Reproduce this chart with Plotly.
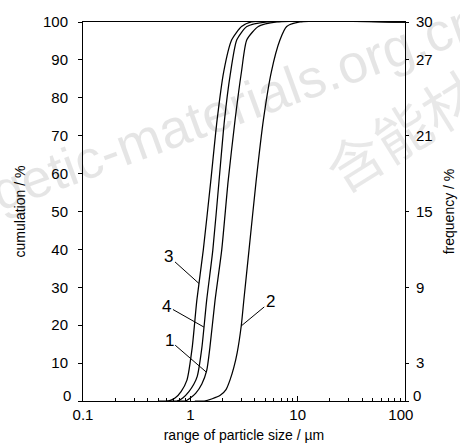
import numpy as np
import plotly.graph_objects as go

# ---- data ----
size_3 = [0.5, 0.62, 0.72, 0.82, 0.93, 1.04, 1.15, 1.32, 1.55, 1.775, 2.05, 2.43, 3.0, 3.7, 100]
cum_3 = [0, 0, 0.8, 2.5, 5.5, 14, 26.6, 39.8, 58, 74.1, 87, 95.3, 98.8, 100, 100]

size_4 = [0.6, 0.75, 0.85, 0.97, 1.08, 1.16, 1.28, 1.42, 1.62, 1.85, 2.08, 2.35, 2.71, 3.36, 5.2, 100]
cum_4 = [0, 0, 0.8, 2.5, 4.5, 6.5, 14, 26.6, 39.8, 58, 74.1, 86, 95.3, 98.8, 100, 100]

size_1 = [0.75, 0.9, 1.0, 1.12, 1.28, 1.42, 1.52, 1.70, 1.96, 2.25, 2.61, 3.0, 3.36, 4.3, 6.4, 100]
cum_1 = [0, 0, 0.8, 2, 4.5, 8, 14, 26.6, 39.8, 58, 74.1, 87, 95.3, 98.8, 100, 100]

size_2 = [1.1, 1.35, 1.6, 1.9, 2.15, 2.34, 2.55, 2.73, 2.98, 3.15, 3.52, 4.1, 4.79, 5.7, 6.85, 7.9, 10.5, 100]
cum_2 = [0, 0, 0.6, 1.5, 3, 5.5, 9, 12.7, 19.8, 26.6, 39.8, 58, 74.1, 87, 95.3, 98.8, 100, 100]

label_cum = {"3": 31.0, "4": 19.5, "1": 7.65, "2": 19.8}
label_off = {"3": (-30, -27), "4": (-37, -21), "1": (-37, -32), "2": (29, -24)}

x_tickvals = [0.1, 1, 10, 100]
x_ticktext = ["0.1", "1", "10", "100\u00a0\u00a0"]
y_tickvals = list(range(0, 101, 10))
y_ticktext = [""] + [str(v) for v in y_tickvals[1:]]
y2_tickvals = [0, 3, 9, 15, 21, 27, 30]
y2_ticktext = [""] + [str(v) for v in y2_tickvals[1:]]

FONT = "Liberation Sans, Arial, sans-serif"

curves = {"1": (size_1, cum_1), "2": (size_2, cum_2), "3": (size_3, cum_3), "4": (size_4, cum_4)}

fig = go.Figure()
for name in ["3", "4", "1", "2"]:
    xs, ys = curves[name]
    fig.add_trace(go.Scatter(x=xs, y=ys, mode="lines", name=name,
                             line=dict(color="black", width=1.25, shape="spline", smoothing=0.6),
                             showlegend=False, hoverinfo="skip"))
# empty trace for the right (frequency) axis
fig.add_trace(go.Scatter(x=[], y=[], yaxis="y2", showlegend=False))

annotations = []
for name in ["3", "4", "1", "2"]:
    xs, ys = curves[name]
    yv = label_cum[name]
    ys_a = np.array(ys, float)
    xs_a = np.log10(np.array(xs, float))
    idx = np.where((ys_a > 0) & (ys_a < 100))[0]
    lo, hi = idx[0] - 1, idx[-1] + 1
    xv = np.interp(yv, ys_a[lo:hi + 1], xs_a[lo:hi + 1])
    ax, ay = label_off[name]
    annotations.append(dict(x=float(xv), y=yv, xref="x", yref="y", text=name,
                            showarrow=True, arrowhead=0, arrowwidth=1, arrowcolor="black",
                            ax=ax, ay=ay, standoff=0, font=dict(family=FONT, size=17, color="black")))

# the "0" labels of both vertical axes sit a little above the baseline
annotations.append(dict(x=0, y=0, xref="paper", yref="y", text=str(y_tickvals[0]), showarrow=False,
                        xanchor="right", yanchor="middle", xshift=-10, yshift=6,
                        font=dict(family=FONT, size=15, color="black")))
annotations.append(dict(x=1, y=0, xref="paper", yref="y", text=str(y2_tickvals[0]), showarrow=False,
                        xanchor="left", yanchor="middle", xshift=6, yshift=6,
                        font=dict(family=FONT, size=15, color="black")))

# watermark
annotations.append(dict(x=0.317, y=0.731, xref="paper", yref="paper", text="energetic-materials.org.cn",
                        showarrow=False, textangle=-20, xanchor="center", yanchor="middle",
                        font=dict(family="Liberation Sans, Arial", size=54, color="rgba(0,0,0,0.10)")))
annotations.append(dict(x=1.062, y=0.755, xref="paper", yref="paper", text="含能材料",
                        showarrow=False, textangle=-32, xanchor="center", yanchor="middle",
                        font=dict(family="Noto Sans CJK SC", size=56, color="rgba(0,0,0,0.09)")))

fig.update_layout(
    width=460, height=447,
    margin=dict(l=83, r=55, t=22, b=46, autoexpand=False),
    paper_bgcolor="white", plot_bgcolor="white",
    font=dict(family=FONT, color="black"),
    annotations=annotations,
    xaxis=dict(type="log", range=[-1, 2], showline=True, linecolor="black", linewidth=1, mirror=True,
               ticks="inside", ticklen=5, tickcolor="black", tickvals=x_tickvals, ticktext=x_ticktext,
               tickfont=dict(size=15), showgrid=False, zeroline=False,
               minor=dict(ticks="inside", ticklen=3, tickcolor="black",
                          tickvals=[k * 10 ** d for d in (-1, 0, 1) for k in range(2, 10)]),
               title=dict(text="range of particle size / µm", font=dict(size=14), standoff=8)),
    yaxis=dict(range=[0, 100], showline=True, linecolor="black", linewidth=1,
               ticks="outside", ticklen=4, tickcolor="black", tickvals=y_tickvals, ticktext=y_ticktext,
               tickfont=dict(size=15), showgrid=False, zeroline=False, ticklabelstandoff=7,
               title=dict(text="cumulation / %", font=dict(size=14), standoff=14)),
    yaxis2=dict(range=[0, 30], overlaying="y", side="right", showline=True, linecolor="black", linewidth=1,
                ticks="outside", ticklen=3, tickcolor="black", tickvals=y2_tickvals, ticktext=y2_ticktext,
                tickfont=dict(size=15), showgrid=False, zeroline=False, ticklabelstandoff=4,
                title=dict(text="frequency / %", font=dict(size=14), standoff=12)),
)

fig.write_html("out.html")
